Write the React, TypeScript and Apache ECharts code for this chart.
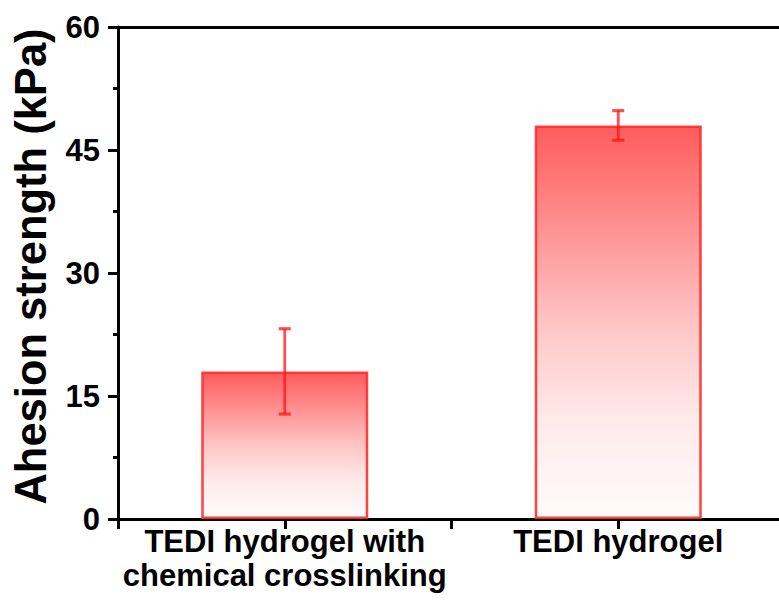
import React, { useEffect, useRef } from "react";
import * as echarts from "echarts";

const categories = ["TEDI hydrogel with\nchemical crosslinking", "TEDI hydrogel"];
const means = [18, 48];
const errors = [5.2, 1.8];
const yMin = 0;
const yMax = 60;
const yInterval = 15;
const yTitle = "Ahesion strength (kPa)";

const FONT = '"Liberation Sans", Arial, sans-serif';

export default function App() {
  const ref = useRef<HTMLDivElement>(null);
  useEffect(() => {
    if (!ref.current) return;
    const chart = echarts.init(ref.current, undefined, { renderer: "svg" });
    const barData = means.map((m, i) => [i, m]);
    const errData = means.map((m, i) => [i, m - errors[i], m + errors[i]]);
    const near = (a: number, b: number) => Math.abs(a - b) < 1e-6;
    chart.setOption({
      animation: false,
      backgroundColor: "#ffffff",
      grid: { left: 118, top: 27, right: 0, bottom: 81, containLabel: false },
      xAxis: [
        {
          type: "value",
          min: -0.5,
          max: 1.5,
          interval: 0.5,
          position: "bottom",
          axisLine: { show: true, onZero: false, lineStyle: { color: "#000", width: 3 } },
          axisTick: { show: true, length: 10, lineStyle: { color: "#000", width: 3 } },
          splitLine: { show: false },
          axisLabel: {
            show: true,
            margin: 5,
            color: "#000",
            fontFamily: FONT,
            fontWeight: "bold",
            fontSize: 31,
            lineHeight: 34,
            formatter: (v: number) => {
              for (let i = 0; i < categories.length; i++) if (near(v, i)) return categories[i];
              return "";
            },
          },
        },
        {
          type: "value",
          min: -0.5,
          max: 1.5,
          interval: 0.5,
          position: "top",
          axisLine: { show: true, onZero: false, lineStyle: { color: "#000", width: 3 } },
          axisTick: { show: false },
          axisLabel: { show: false },
          splitLine: { show: false },
        },
      ],
      yAxis: {
        type: "value",
        min: yMin,
        max: yMax,
        interval: yInterval,
        name: yTitle,
        nameLocation: "middle",
        nameRotate: 90,
        nameGap: 65,
        nameTextStyle: {
          color: "#000",
          fontFamily: FONT,
          fontWeight: "bold",
          fontSize: 43.5,
          padding: [0, 0, 0, 13],
        },
        axisLine: { show: true, onZero: false, lineStyle: { color: "#000", width: 3 } },
        axisTick: { show: true, length: 10, lineStyle: { color: "#000", width: 3 } },
        minorTick: { show: true, splitNumber: 2, length: 5, lineStyle: { color: "#000", width: 3 } },
        splitLine: { show: false },
        axisLabel: {
          margin: 18,
          color: "#000",
          fontFamily: FONT,
          fontWeight: "bold",
          fontSize: 31,
        },
      },
      series: [
        {
          type: "bar",
          xAxisIndex: 0,
          yAxisIndex: 0,
          data: barData,
          barWidth: 167,
          itemStyle: {
            color: new echarts.graphic.LinearGradient(0, 0, 0, 1, [
              { offset: 0, color: "#ff5c5c" },
              { offset: 0.25, color: "#ff9090" },
              { offset: 0.5, color: "#ffc4c4" },
              { offset: 0.75, color: "#ffeaea" },
              { offset: 1, color: "#fffbfb" },
            ]),
            borderColor: "rgba(255,45,45,0.9)",
            borderWidth: 2.5,
          },
        },
        {
          type: "custom",
          xAxisIndex: 0,
          yAxisIndex: 0,
          data: errData,
          z: 5,
          renderItem: (params: any, api: any) => {
            const x = api.value(0);
            const top = api.coord([x, api.value(2)]);
            const bot = api.coord([x, api.value(1)]);
            const hw = 6;
            const style = { stroke: "rgba(255,20,20,0.75)", lineWidth: 2.8 };
            return {
              type: "group",
              children: [
                { type: "line", shape: { x1: top[0], y1: top[1], x2: bot[0], y2: bot[1] }, style },
                { type: "line", shape: { x1: top[0] - hw, y1: top[1], x2: top[0] + hw, y2: top[1] }, style: { ...style, lineWidth: 3.2 } },
                { type: "line", shape: { x1: bot[0] - hw, y1: bot[1], x2: bot[0] + hw, y2: bot[1] }, style: { ...style, lineWidth: 3.2 } },
              ],
            };
          },
        },
      ],
    });
    return () => chart.dispose();
  }, []);
  return (
    <div style={{ position: "absolute", left: 0, top: 0, width: 779, height: 600, overflow: "hidden" }}>
      <div ref={ref} style={{ width: 788, height: 600 }} />
    </div>
  );
}
